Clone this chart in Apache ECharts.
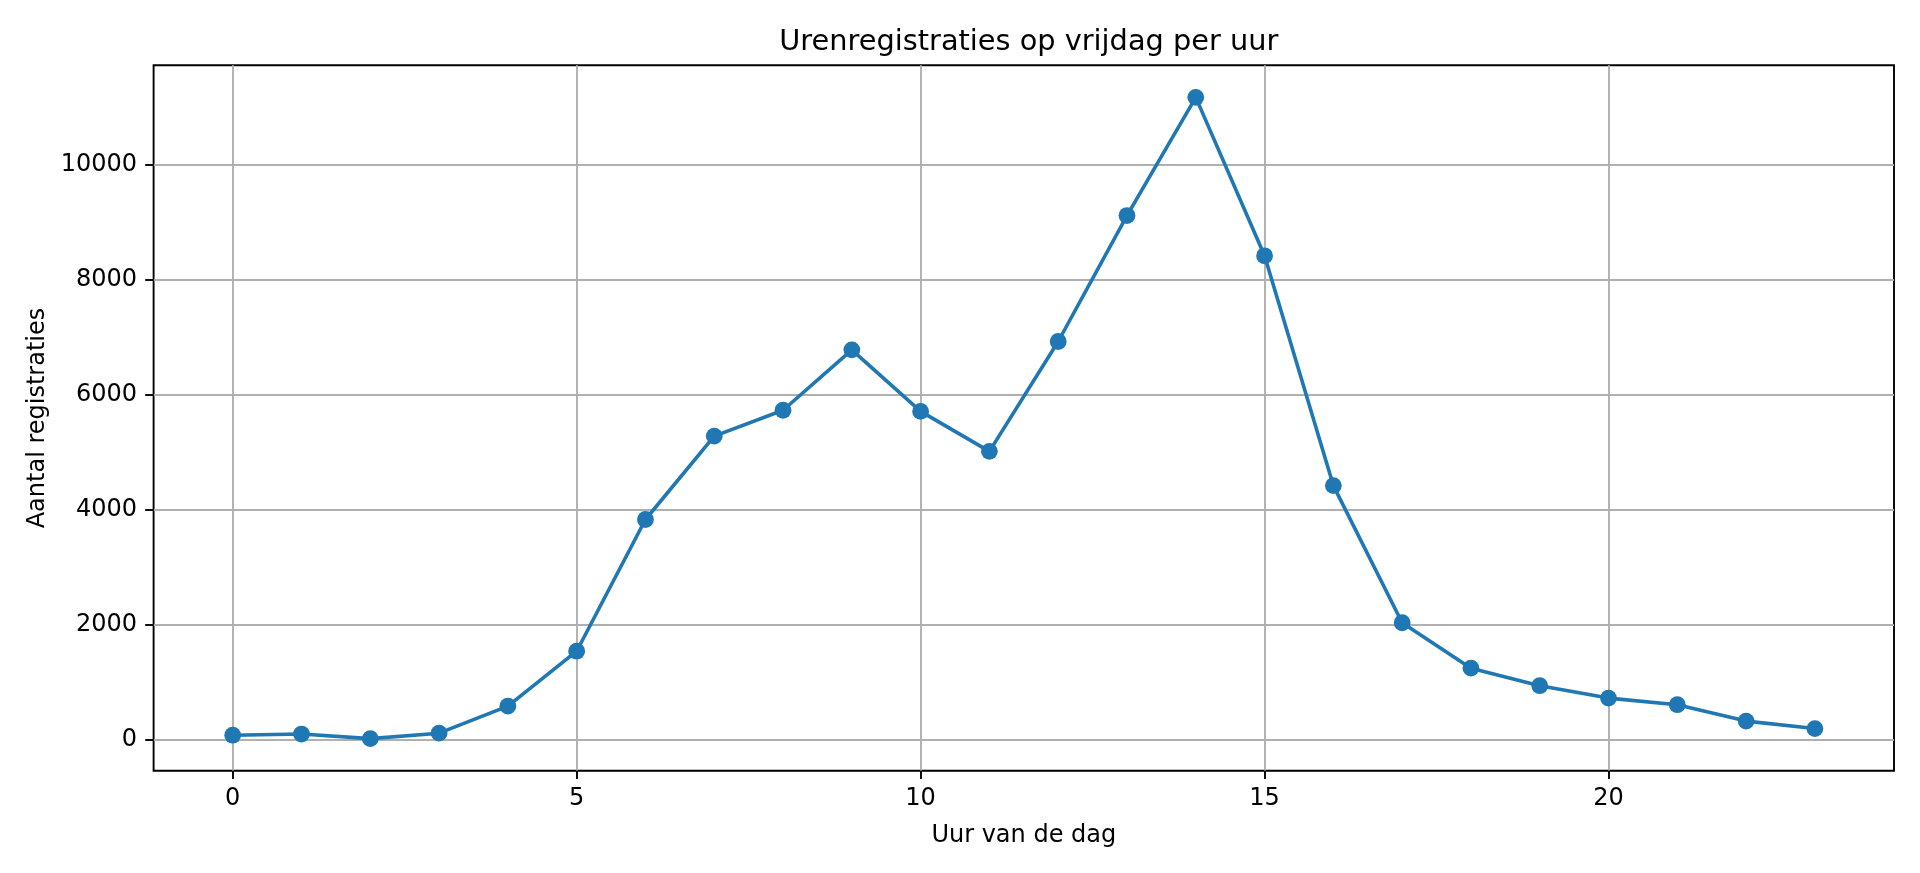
<!DOCTYPE html>
<html>
<head>
<meta charset="utf-8">
<script src="https://cdn.jsdelivr.net/npm/echarts@6/dist/echarts.min.js"></script>
<style>
html,body{margin:0;padding:0;background:#fff;}
#chart{width:1920px;height:873px;}
</style>
</head>
<body>
<div id="chart"></div>
<script>
const hours = [0,1,2,3,4,5,6,7,8,9,10,11,12,13,14,15,16,17,18,19,20,21,22,23];
const counts = [80, 100, 20, 115, 585, 1540, 3830, 5280, 5730, 6780, 5710, 5015, 6925, 9115, 11170, 8415, 4420, 2035, 1245, 940, 725, 610, 325, 195];
const xTicks = [0, 5, 10, 15, 20];
const yTicks = [0, 2000, 4000, 6000, 8000, 10000];
const titleText = 'Urenregistraties op vrijdag per uur';
const xLabel = 'Uur van de dag';
const yLabel = 'Aantal registraties';

// matplotlib-like 5% margins
function margins(arr){
  const lo = Math.min(...arr), hi = Math.max(...arr), r = hi - lo;
  return [lo - 0.05*r, hi + 0.05*r];
}
const [xmin, xmax] = margins(hours);
const [ymin, ymax] = margins(counts);

const FONT = 'DejaVu Sans';
const GL = 153.6, GR = 26, GT = 65.3, GB = 102.3;
const chart = echarts.init(document.getElementById('chart'), null, {renderer:'canvas'});
const axisCommon = {
  axisLine:{show:false, onZero:false},
  axisTick:{show:true, inside:false, length:8.4, lineStyle:{color:'#000', width:1.9}},
  axisLabel:{color:'#000', fontFamily:FONT, fontSize:24, margin:16.5, formatter:(v)=>String(v)},
  splitLine:{show:true, lineStyle:{color:'#b0b0b0', width:1.9}},
  nameLocation:'middle',
  nameTextStyle:{color:'#000', fontFamily:FONT, fontSize:24}
};
chart.setOption({
  animation:false,
  backgroundColor:'#fff',
  title:{
    text:titleText, left:GL + (1920-GL-GR)/2, textAlign:'center', top:23,
    textStyle:{fontFamily:FONT, fontSize:28.8, fontWeight:'normal', color:'#000'}
  },
  grid:{left:GL, right:GR, top:GT, bottom:GB, show:true, borderColor:'#000', borderWidth:1.9, backgroundColor:'transparent', containLabel:false},
  xAxis:Object.assign({}, axisCommon, {
    type:'value', min:xmin, max:xmax, name:xLabel, nameGap:53,
    axisTick:Object.assign({}, axisCommon.axisTick, {customValues:xTicks}),
    axisLabel:Object.assign({}, axisCommon.axisLabel, {customValues:xTicks}),
  }),
  yAxis:Object.assign({}, axisCommon, {
    type:'value', min:ymin, max:ymax, name:yLabel, nameGap:104,
    axisTick:Object.assign({}, axisCommon.axisTick, {customValues:yTicks}),
    axisLabel:Object.assign({}, axisCommon.axisLabel, {customValues:yTicks}),
  }),
  series:[{
    type:'line',
    data:hours.map((h,i)=>[h, counts[i]]),
    symbol:'circle', symbolSize:16.8,
    lineStyle:{color:'#1f77b4', width:3.6},
    itemStyle:{color:'#1f77b4'},
    z:3
  }]
});
</script>
</body>
</html>
